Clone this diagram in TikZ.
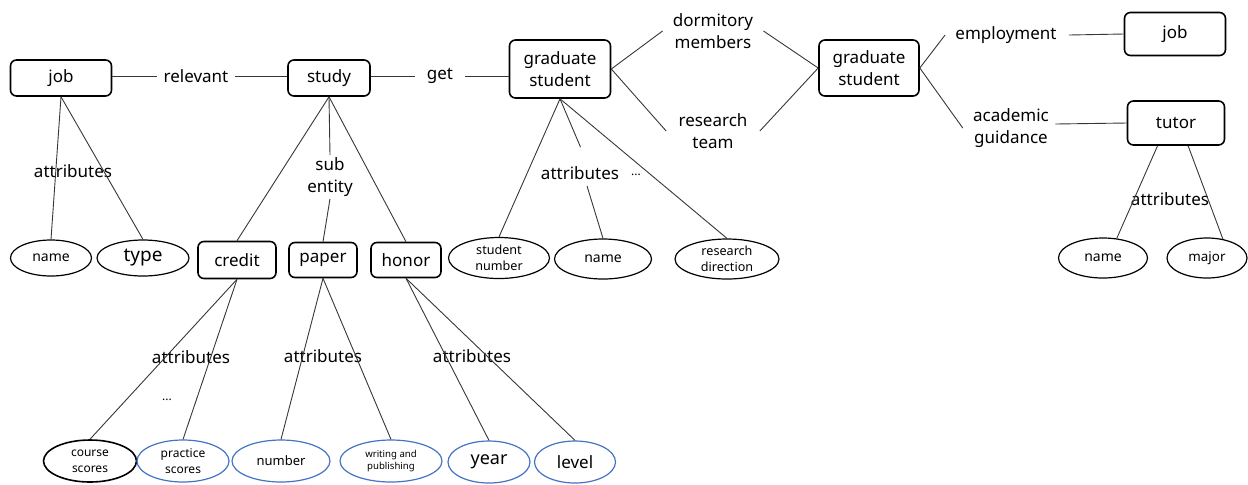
\documentclass[tikz,border=0pt]{standalone}
\usepackage{fontspec}
\setmainfont{Noto Sans}
\usetikzlibrary{shapes.geometric}
\definecolor{attrblue}{RGB}{68,114,196}
\definecolor{linkgray}{RGB}{55,55,55}
\begin{document}
\begin{tikzpicture}[x=0.5pt,y=-0.5pt,
  box/.style={draw=black,line width=0.8pt,rounded corners=3pt,minimum height=18pt,inner sep=1pt,align=center,font=\fontsize{8.5}{11}\selectfont},
  attr/.style={draw=black,ellipse,line width=0.6pt,inner sep=0pt,align=center},
  battr/.style={attr,draw=attrblue},
  lbl/.style={inner sep=3pt,align=center,font=\fontsize{8.5}{11}\selectfont},
  link/.style={draw=linkgray,line width=0.45pt}]
\useasboundingbox (0,0) rectangle (1248,484);
% entities
\node[box,minimum width=50.5pt] (job) at (61,78) {job};
\node[box,minimum width=41pt] (study) at (329,78) {study};
\node[box,minimum width=50.5pt,minimum height=29pt] (grad) at (560,69) {graduate\\student};
\node[box,minimum width=50pt,minimum height=28pt] (grad2) at (869,68) {graduate\\student};
\node[box,minimum width=50.5pt,minimum height=21.5pt] (job2) at (1175,34) {job};
\node[box,minimum width=48.5pt,minimum height=22pt] (tutor) at (1176,123) {tutor};
\node[box,minimum width=39pt,minimum height=18.5pt] (credit) at (237,260) {credit};
\node[box,minimum width=34pt,minimum height=17.5pt] (paper) at (323,260) {paper};
\node[box,minimum width=35pt,minimum height=17.5pt] (honor) at (406,260) {honor};
% relation labels
\node[lbl] (relevant) at (196,76) {relevant};
\node[lbl,inner xsep=6pt] (get) at (440,76) {get};
\node[lbl,inner sep=1pt] (sub) at (330,177) {sub\\entity};
\node[lbl,inner sep=1pt] (dorm) at (713,31) {dormitory\\members};
\node[lbl,inner sep=1pt] (team) at (713,131) {research\\team};
\node[lbl,inner sep=1pt] (employ) at (1006,35) {employment};
\node[lbl,inner sep=1pt] (guide) at (1011,128) {academic\\guidance};
\node[lbl] (jobattr) at (73,171) {attributes};
\node[lbl] (gattr) at (580,173) {attributes};
\node[lbl,font=\fontsize{6}{7}\selectfont] (gdots) at (636,175) {...};
\node[lbl] (tattr) at (1170,199) {attributes};
\node[lbl] (cattr) at (191,357) {attributes};
\node[lbl,font=\fontsize{6}{7}\selectfont] (cdots) at (167,400) {...};
\node[lbl] (pattr) at (323,356) {attributes};
\node[lbl] (hattr) at (472,356) {attributes};
% attributes
\node[attr,minimum width=40.5pt,minimum height=18pt,font=\fontsize{7}{8}\selectfont] (jobname) at (51,258) {name};
\node[attr,minimum width=46pt,minimum height=18pt,font=\fontsize{9.5}{11}\selectfont] (jobtype) at (143,258) {type};
\node[attr,minimum width=50.5pt,minimum height=20.5pt,font=\fontsize{6.3}{8}\selectfont] (sn) at (499,258) {student\\number};
\node[attr,minimum width=48.5pt,minimum height=20pt,font=\fontsize{7}{8}\selectfont] (gname) at (603,259) {name};
\node[attr,minimum width=52pt,minimum height=20pt,font=\fontsize{6.3}{8}\selectfont] (rd) at (727,259) {research\\direction};
\node[attr,minimum width=44.5pt,minimum height=20pt,font=\fontsize{7}{8}\selectfont] (tname) at (1103,258) {name};
\node[attr,minimum width=40pt,minimum height=20pt,font=\fontsize{6.7}{8}\selectfont] (tmajor) at (1207,258) {major};
\node[attr,line width=0.8pt,minimum width=46.5pt,minimum height=21pt,font=\fontsize{6}{7.8}\selectfont] (course) at (90,461) {course\\scores};
\node[battr,minimum width=46pt,minimum height=21pt,font=\fontsize{6}{7.8}\selectfont] (practice) at (183,461) {practice\\scores};
\node[battr,minimum width=49pt,minimum height=21pt,font=\fontsize{6.5}{8}\selectfont] (number) at (281,461) {number};
\node[battr,minimum width=51pt,minimum height=21pt,font=\fontsize{4.8}{6.2}\selectfont] (writing) at (391,461) {writing and\\publishing};
\node[battr,minimum width=41pt,minimum height=21pt,font=\fontsize{9}{10}\selectfont] (year) at (489,462) {year};
\node[battr,minimum width=40.5pt,minimum height=21pt,font=\fontsize{8.5}{10}\selectfont] (level) at (575,462) {level};
% relations
\draw[link] (relevant.west -| job.east) -- (relevant.west);
\draw[link] (relevant.east) -- (relevant.east -| study.west);
\draw[link] (get.west -| study.east) -- (get.west);
\draw[link] (get.east) -- (get.east -| grad.west);
\draw[link] (grad.east) -- ([xshift=-4pt]dorm.west);
\draw[link] (grad.east) -- ([xshift=-5pt]team.west);
\draw[link] ([xshift=4pt]dorm.east) -- (grad2.west);
\draw[link] ([xshift=5pt]team.east) -- (grad2.west);
\draw[link] (grad2.east) -- ([xshift=-4pt]employ.west);
\draw[link] ([xshift=5pt]employ.east) -- (job2.west);
\draw[link] (grad2.east) -- ([xshift=-4pt]guide.west);
\draw[link] ([xshift=2pt,yshift=2pt]guide.east) -- (tutor.west);
% attribute links
\draw[link] (job.south) -- (jobname.north);
\draw[link] (job.south) -- (jobtype.north);
\draw[link] (study.south) -- (credit.north);
\draw[link] (study.south) -- (sub.north);
\draw[link] (sub.south) -- (paper.north);
\draw[link] (study.south) -- (honor.north);
\draw[link] (grad.south) -- (sn.north);
\draw[link,shorten >=7pt] (grad.south) -- ([xshift=3pt]gattr.north);
\draw[link] ([xshift=3.5pt]gattr.south) -- (gname.north);
\draw[link] (grad.south) -- (rd.north);
\draw[link] (tutor.-129) -- (tname.55);
\draw[link] (tutor.-62) -- (tmajor.50);
\draw[link] (credit.south) -- (course.north);
\draw[link] (credit.south) -- (practice.north);
\draw[link] (paper.south) -- (number.north);
\draw[link] (paper.south) -- (writing.north);
\draw[link] (honor.south) -- (year.north);
\draw[link] (honor.south) -- (level.north);
\end{tikzpicture}
\end{document}
